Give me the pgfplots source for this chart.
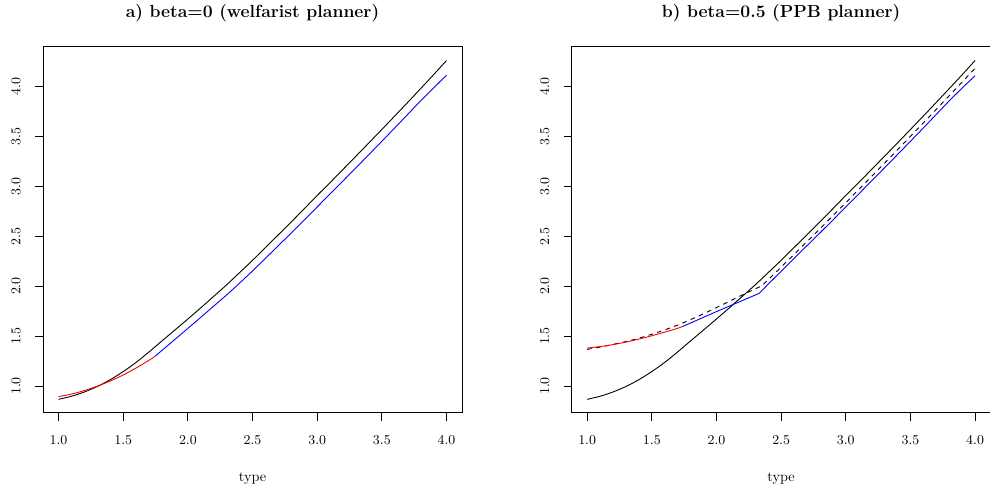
\documentclass[border=0pt]{standalone}
\usepackage{pgfplots}
\pgfplotsset{compat=1.18}

\newcommand\tk{\fontsize{9.2}{11}\selectfont}
\newcommand\ttl{\fontsize{11.7}{14}\selectfont\bfseries}

% black curve is the same in both panels
\pgfplotstableread{
x y
1.0 0.867
1.1 0.898
1.2 0.941
1.3 0.996
1.4 1.064
1.5 1.145
1.6 1.237
1.7 1.342
1.8 1.452
1.9 1.561
2.0 1.671
2.1 1.783
2.2 1.898
2.3 2.013
2.4 2.135
2.5 2.258
2.6 2.386
2.7 2.514
2.8 2.643
2.9 2.774
3.0 2.907
3.1 3.036
3.2 3.168
3.3 3.300
3.4 3.433
3.5 3.567
3.6 3.702
3.7 3.838
3.8 3.976
3.9 4.115
4.0 4.257
}\blacktab

\pgfplotsset{
  rstyle/.style={
    scale only axis,
    width=279.3pt, height=244pt,
    xmin=0.88, xmax=4.12,
    ymin=0.731, ymax=4.393,
    axis line style={line width=0.6pt},
    tick style={line width=0.6pt, black},
    tick align=outside,
    major tick length=5.3pt,
    xtick pos=bottom, ytick pos=left,
    xtick={1,1.5,...,4}, ytick={1,1.5,...,4},
    xticklabel style={font=\tk},
    xticklabel shift=6.7pt,
    yticklabel style={font=\tk, rotate=90, anchor=base},
    yticklabel shift=9.8pt,
    /pgf/number format/.cd, fixed, fixed zerofill, precision=1,
    /pgfplots/.cd,
    xlabel={type},
    xlabel style={font=\fontsize{9.5}{11}\selectfont, at={(axis description cs:0.5,0)}, anchor=base, yshift=-46pt},
    title style={font=\ttl, at={(axis description cs:0.5,1)}, anchor=base, yshift=13.8pt},
    every axis plot/.append style={line width=0.6pt},
  }
}

\begin{document}
\begin{tikzpicture}
\useasboundingbox (0,0) rectangle (660pt,328pt);

\begin{axis}[rstyle, at={(28.7pt,52.7pt)}, anchor=south west,
  title={a) beta=0 (welfarist planner)}]
\addplot[black, smooth] table {\blacktab};
\addplot[red, smooth] coordinates {
(1.0,0.894) (1.1,0.920) (1.2,0.955) (1.3,0.999) (1.4,1.051)
(1.5,1.111) (1.6,1.181) (1.7,1.259) (1.742,1.294)
};
\addplot[blue, smooth] coordinates {
(1.742,1.294) (1.8,1.357) (1.9,1.467) (2.0,1.577) (2.1,1.688)
(2.2,1.800) (2.3,1.912) (2.4,2.030) (2.5,2.152) (2.6,2.278)
(2.7,2.405) (2.8,2.532) (2.9,2.661) (3.0,2.792) (3.1,2.922)
(3.2,3.053) (3.3,3.184) (3.4,3.316) (3.5,3.449) (3.6,3.583)
(3.7,3.718) (3.8,3.854) (3.9,3.982) (4.0,4.110)
};
\end{axis}

\begin{axis}[rstyle, at={(381.1pt,52.7pt)}, anchor=south west,
  title={b) beta=0.5 (PPB planner)}]
\addplot[black, smooth] table {\blacktab};
\addplot[black, dash pattern=on 3pt off 3pt] coordinates {
(1.0,1.367) (1.1,1.390) (1.2,1.417) (1.3,1.445) (1.4,1.478)
(1.5,1.518) (1.6,1.562) (1.7,1.610) (1.8,1.665) (1.9,1.723)
(2.0,1.785) (2.1,1.848) (2.2,1.912) (2.3,1.972) (2.35,2.003)
(2.4,2.065) (2.5,2.190) (2.6,2.317) (2.7,2.445) (2.8,2.574)
(2.9,2.704) (3.0,2.835) (3.1,2.966) (3.2,3.098) (3.3,3.231)
(3.4,3.364) (3.5,3.498) (3.6,3.633) (3.7,3.769) (3.8,3.905)
(3.9,4.042) (4.0,4.180)
};
\addplot[red, smooth] coordinates {
(1.0,1.380) (1.1,1.395) (1.2,1.415) (1.3,1.440) (1.4,1.470)
(1.5,1.503) (1.6,1.540) (1.7,1.578) (1.74,1.597)
};
\addplot[blue] coordinates {
(1.74,1.597) (2.0,1.745) (2.33,1.927) (2.4,2.020) (2.5,2.148)
(2.6,2.278) (2.7,2.405) (2.8,2.532) (2.9,2.661) (3.0,2.792)
(3.1,2.922) (3.2,3.053) (3.3,3.184) (3.4,3.316) (3.5,3.449)
(3.6,3.583) (3.7,3.718) (3.8,3.854) (3.9,3.982) (4.0,4.105)
};
\end{axis}
\end{tikzpicture}
\end{document}
